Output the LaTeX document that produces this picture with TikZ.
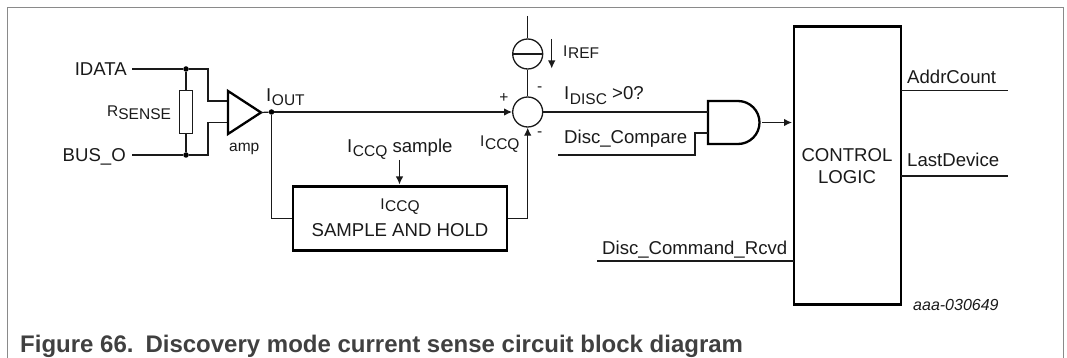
\documentclass[tikz,border=0pt]{standalone}
\usepackage{fontspec}
\setmainfont{Liberation Sans}
\usetikzlibrary{arrows.meta}
\newcommand\fsL{\fontsize{18.6}{20}\selectfont}
\newcommand\fsS{\fontsize{15.5}{18}\selectfont}
\newcommand\cursub[2]{\fsL #1\hspace{0.6pt}\raisebox{-3.5pt}{\fsS #2}}
\definecolor{wire}{HTML}{1A1A1A}
\definecolor{framegray}{HTML}{8A8A8A}
\definecolor{captiongray}{HTML}{404040}
\tikzset{
  x=1pt,y=-1pt,
  wireline/.style={draw=wire,line width=1.2pt},
  heavy/.style={draw=black,line width=2.7pt},
  gateline/.style={draw=black,line width=2.3pt,fill=white,line join=miter},
  thinbox/.style={draw=wire,line width=1.2pt,fill=white,inner sep=0pt,minimum width=13pt,minimum height=43pt},
  ringnode/.style={circle,draw=wire,line width=1.3pt,fill=white,inner sep=0pt,minimum size=30pt},
  heavybox/.style={heavy,fill=white,inner sep=0pt,align=center},
  dotnode/.style={circle,fill=black,inner sep=0pt,minimum size=5.5pt},
  lbl/.style={anchor=base west,inner sep=0pt,text=wire,font=\fsL},
  lbls/.style={anchor=base west,inner sep=0pt,text=wire,font=\fsS},
  tipped/.style={wireline,-{Latex[length=8pt,width=7.5pt]}},
}
\begin{document}
\begin{tikzpicture}
\useasboundingbox (0,0) rectangle (1067,358);
% frame
\draw[framegray,line width=1pt] (7.5,358) -- (7.5,8) -- (1063,8) -- (1063,358);

% input labels and free wire ends
\node[lbl,anchor=base east] (idata) at (127,76) {IDATA};
\node[lbl,anchor=base east] (buso) at (126,161.5) {BUS\_O};
\coordinate (idataend) at (132,69);
\coordinate (busoend) at (132,155);
\node[dotnode] (dtop) at (186,69) {};
\node[dotnode] (dbot) at (186,155) {};
\node[thinbox] (rsense) at (186,112) {};
\node[lbls] (rlabel) at (107,117) {R\raisebox{-2.5pt}{SENSE}};
\draw[wireline] (idataend) -- (dtop);
\draw[wireline] (busoend) -- (dbot);
\draw[wireline] (dtop) -- (rsense.north);
\draw[wireline] (dbot) -- (rsense.south);

% amplifier
\coordinate (ampa) at (228,91);
\coordinate (ampb) at (228,134);
\coordinate (ampo) at (261,112.5);
\coordinate (ampp) at (228,101);
\coordinate (ampn) at (228,122.5);
\draw[wireline] (dtop) -| (208,101) -- (ampp);
\draw[wireline] (dbot) -| (208,122.5) -- (ampn);
\draw[gateline] (ampa) -- (ampo) -- (ampb) -- cycle;
\node[lbls] (amp) at (229,152) {amp};

% output
\node[dotnode] (dout) at (271.5,112) {};
\node[lbl] (iout) at (266,102) {\cursub{I}{OUT}};
\draw[wireline] (ampo) -- (dout);

% summer and current source
\node[ringnode] (summer) at (527.7,112) {};
\node[ringnode] (isrc) at (527.7,54) {};
\draw[wireline] (isrc.west) -- (isrc.east);
\coordinate (vtop) at (527.7,16);
\draw[wireline] (vtop) -- (isrc.north);
\draw[wireline] (isrc.south) -- (summer.north);
\draw[tipped] (dout) -- (summer.west);
\coordinate (irefa) at (551.7,39);
\coordinate (irefb) at (551.7,68.5);
\draw[tipped] (irefa) -- (irefb);
\node[lbls] (iref) at (563,57) {I\hspace{0.6pt}\raisebox{-2pt}{REF}};
\node[lbls,anchor=center] (plus) at (504,98) {+};
\node[lbls,anchor=center] (minusa) at (539.7,89) {-};
\node[lbls,anchor=center] (minusb) at (539.7,134) {-};
\node[lbls] (iccqb) at (480,147) {I\hspace{0.6pt}\raisebox{-2pt}{CCQ}};

% sample and hold
\node[heavybox,minimum width=214pt,minimum height=64pt] (sh) at (400,218.7) {};
\node[lbl,anchor=base] (shA) at (400,209) {\fsS I\hspace{0.6pt}\raisebox{-2.5pt}{CCQ}};
\node[lbl,anchor=base] (shB) at (400,236) {SAMPLE AND HOLD};
\node[lbl] (ccqsample) at (347,153) {\cursub{I}{CCQ} sample};
\coordinate (sampletop) at (399.5,160);
\coordinate (sampletip) at (399.5,184.5);
\draw[tipped] (sampletop) -- (sampletip);
\draw[wireline] (dout) |- (sh.west);
\draw[tipped] (sh.east) -| (summer.south);

% and gate
\coordinate (ga) at (708,101);
\coordinate (gb) at (708,144);
\coordinate (gout) at (762,122.5);
\coordinate (gin1) at (708,112);
\coordinate (gin2) at (708,133);
\draw[gateline] (ga) -- (738,101) arc[start angle=90,end angle=-90,radius=21.5pt] -- (gb) -- cycle;
\draw[wireline] (summer.east) -- (gin1);
\node[lbl] (idisc) at (564,100) {\fsL I\hspace{0.6pt}\raisebox{-5pt}{\fsS DISC} >0?};
\coordinate (cmpstart) at (558,155);
\draw[wireline] (cmpstart) -| (695,133) -- (gin2);
\node[lbl] (cmp) at (564,144) {Disc\_Compare};

% control logic
\node[heavybox,minimum width=107pt,minimum height=278pt] (ctl) at (847.5,165.5) {};
\node[lbl,anchor=base] (ctlA) at (847,161) {CONTROL};
\node[lbl,anchor=base] (ctlB) at (847,183) {LOGIC};
\coordinate (gtip) at (792,122.5);
\draw[tipped] (gout) -- (gtip);
\coordinate (rcvdstart) at (597,261);
\coordinate (rcvdend) at (794,261);
\draw[wireline] (rcvdstart) -- (rcvdend);
\node[lbl] (rcvd) at (602,254) {Disc\_Command\_Rcvd};
\coordinate (addrstart) at (901,90.5);
\coordinate (laststart) at (901,176);
\coordinate (addrend) at (1008,90.5);
\coordinate (lastend) at (1008,176);
\draw[wireline] (addrstart) -- (addrend);
\draw[wireline] (laststart) -- (lastend);
\node[lbl] (addr) at (907,84) {AddrCount};
\node[lbl] (last) at (907,167) {LastDevice};
\node[lbl,font=\fontsize{16}{18}\selectfont\itshape] (ref) at (913,310) {aaa-030649};

% caption
\node[anchor=base west,inner sep=0pt,text=captiongray,font=\fontsize{24}{26}\selectfont\bfseries] (cap) at (20,352.7) {Figure 66.\hspace{0.5em}Discovery mode current sense circuit block diagram};
\end{tikzpicture}
\end{document}
